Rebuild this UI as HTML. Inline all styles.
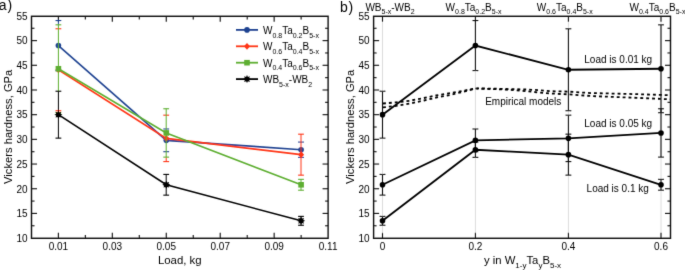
<!DOCTYPE html>
<html><head><meta charset="utf-8"><style>
html,body{margin:0;padding:0;background:#fff;}
body{width:685px;height:270px;overflow:hidden;}
svg{display:block;font-family:"Liberation Sans",sans-serif;}
</style></head><body>
<svg width="685" height="270" viewBox="0 0 685 270" font-family="Liberation Sans, sans-serif">
<defs><filter id="bl" x="0" y="0" width="685" height="270" filterUnits="userSpaceOnUse"><feConvolveMatrix order="3" kernelMatrix="0.0100 0.0800 0.0100 0.0800 0.6400 0.0800 0.0100 0.0800 0.0100" divisor="1" edgeMode="none"/></filter><filter id="blt" x="0" y="0" width="685" height="270" filterUnits="userSpaceOnUse"><feConvolveMatrix order="3" kernelMatrix="0.01 0.08 0.01 0.08 0.64 0.08 0.01 0.08 0.01" divisor="1" edgeMode="none"/></filter></defs>
<rect width="685" height="270" fill="#fff"/>
<g filter="url(#bl)">
<line x1="31.5" y1="213.41" x2="37" y2="213.41" stroke="#111" stroke-width="1.1" />
<line x1="322.6" y1="213.41" x2="328.1" y2="213.41" stroke="#111" stroke-width="1.1" />
<line x1="31.5" y1="188.73" x2="37" y2="188.73" stroke="#111" stroke-width="1.1" />
<line x1="322.6" y1="188.73" x2="328.1" y2="188.73" stroke="#111" stroke-width="1.1" />
<line x1="31.5" y1="164.04" x2="37" y2="164.04" stroke="#111" stroke-width="1.1" />
<line x1="322.6" y1="164.04" x2="328.1" y2="164.04" stroke="#111" stroke-width="1.1" />
<line x1="31.5" y1="139.36" x2="37" y2="139.36" stroke="#111" stroke-width="1.1" />
<line x1="322.6" y1="139.36" x2="328.1" y2="139.36" stroke="#111" stroke-width="1.1" />
<line x1="31.5" y1="114.67" x2="37" y2="114.67" stroke="#111" stroke-width="1.1" />
<line x1="322.6" y1="114.67" x2="328.1" y2="114.67" stroke="#111" stroke-width="1.1" />
<line x1="31.5" y1="89.99" x2="37" y2="89.99" stroke="#111" stroke-width="1.1" />
<line x1="322.6" y1="89.99" x2="328.1" y2="89.99" stroke="#111" stroke-width="1.1" />
<line x1="31.5" y1="65.3" x2="37" y2="65.3" stroke="#111" stroke-width="1.1" />
<line x1="322.6" y1="65.3" x2="328.1" y2="65.3" stroke="#111" stroke-width="1.1" />
<line x1="31.5" y1="40.62" x2="37" y2="40.62" stroke="#111" stroke-width="1.1" />
<line x1="322.6" y1="40.62" x2="328.1" y2="40.62" stroke="#111" stroke-width="1.1" />
<line x1="31.5" y1="225.76" x2="34.5" y2="225.76" stroke="#111" stroke-width="1.1" />
<line x1="325.1" y1="225.76" x2="328.1" y2="225.76" stroke="#111" stroke-width="1.1" />
<line x1="31.5" y1="201.07" x2="34.5" y2="201.07" stroke="#111" stroke-width="1.1" />
<line x1="325.1" y1="201.07" x2="328.1" y2="201.07" stroke="#111" stroke-width="1.1" />
<line x1="31.5" y1="176.39" x2="34.5" y2="176.39" stroke="#111" stroke-width="1.1" />
<line x1="325.1" y1="176.39" x2="328.1" y2="176.39" stroke="#111" stroke-width="1.1" />
<line x1="31.5" y1="151.7" x2="34.5" y2="151.7" stroke="#111" stroke-width="1.1" />
<line x1="325.1" y1="151.7" x2="328.1" y2="151.7" stroke="#111" stroke-width="1.1" />
<line x1="31.5" y1="127.02" x2="34.5" y2="127.02" stroke="#111" stroke-width="1.1" />
<line x1="325.1" y1="127.02" x2="328.1" y2="127.02" stroke="#111" stroke-width="1.1" />
<line x1="31.5" y1="102.33" x2="34.5" y2="102.33" stroke="#111" stroke-width="1.1" />
<line x1="325.1" y1="102.33" x2="328.1" y2="102.33" stroke="#111" stroke-width="1.1" />
<line x1="31.5" y1="77.65" x2="34.5" y2="77.65" stroke="#111" stroke-width="1.1" />
<line x1="325.1" y1="77.65" x2="328.1" y2="77.65" stroke="#111" stroke-width="1.1" />
<line x1="31.5" y1="52.96" x2="34.5" y2="52.96" stroke="#111" stroke-width="1.1" />
<line x1="325.1" y1="52.96" x2="328.1" y2="52.96" stroke="#111" stroke-width="1.1" />
<line x1="31.5" y1="28.28" x2="34.5" y2="28.28" stroke="#111" stroke-width="1.1" />
<line x1="325.1" y1="28.28" x2="328.1" y2="28.28" stroke="#111" stroke-width="1.1" />
<line x1="58.38" y1="238.3" x2="58.38" y2="232.8" stroke="#111" stroke-width="1.1" />
<line x1="58.38" y1="16.3" x2="58.38" y2="21.8" stroke="#111" stroke-width="1.1" />
<line x1="85.35" y1="238.3" x2="85.35" y2="235.1" stroke="#111" stroke-width="1.1" />
<line x1="85.35" y1="16.3" x2="85.35" y2="19.5" stroke="#111" stroke-width="1.1" />
<line x1="112.32" y1="238.3" x2="112.32" y2="232.8" stroke="#111" stroke-width="1.1" />
<line x1="112.32" y1="16.3" x2="112.32" y2="21.8" stroke="#111" stroke-width="1.1" />
<line x1="139.3" y1="238.3" x2="139.3" y2="235.1" stroke="#111" stroke-width="1.1" />
<line x1="139.3" y1="16.3" x2="139.3" y2="19.5" stroke="#111" stroke-width="1.1" />
<line x1="166.28" y1="238.3" x2="166.28" y2="232.8" stroke="#111" stroke-width="1.1" />
<line x1="166.28" y1="16.3" x2="166.28" y2="21.8" stroke="#111" stroke-width="1.1" />
<line x1="193.25" y1="238.3" x2="193.25" y2="235.1" stroke="#111" stroke-width="1.1" />
<line x1="193.25" y1="16.3" x2="193.25" y2="19.5" stroke="#111" stroke-width="1.1" />
<line x1="220.23" y1="238.3" x2="220.23" y2="232.8" stroke="#111" stroke-width="1.1" />
<line x1="220.23" y1="16.3" x2="220.23" y2="21.8" stroke="#111" stroke-width="1.1" />
<line x1="247.2" y1="238.3" x2="247.2" y2="235.1" stroke="#111" stroke-width="1.1" />
<line x1="247.2" y1="16.3" x2="247.2" y2="19.5" stroke="#111" stroke-width="1.1" />
<line x1="274.17" y1="238.3" x2="274.17" y2="232.8" stroke="#111" stroke-width="1.1" />
<line x1="274.17" y1="16.3" x2="274.17" y2="21.8" stroke="#111" stroke-width="1.1" />
<line x1="301.15" y1="238.3" x2="301.15" y2="235.1" stroke="#111" stroke-width="1.1" />
<line x1="301.15" y1="16.3" x2="301.15" y2="19.5" stroke="#111" stroke-width="1.1" />
<line x1="58.4" y1="20.53" x2="58.4" y2="24.82" stroke="#1f4391" stroke-width="1.0" />
<line x1="55.5" y1="20.53" x2="61.3" y2="20.53" stroke="#1f4391" stroke-width="1.1" />
<line x1="55.5" y1="70.59" x2="61.3" y2="70.59" stroke="#1f4391" stroke-width="1.1" />
<line x1="163.3" y1="128.99" x2="169.1" y2="128.99" stroke="#1f4391" stroke-width="1.1" />
<line x1="163.3" y1="151.7" x2="169.1" y2="151.7" stroke="#1f4391" stroke-width="1.1" />
<line x1="298.1" y1="142.08" x2="303.9" y2="142.08" stroke="#1f4391" stroke-width="1.1" />
<line x1="298.1" y1="157.38" x2="303.9" y2="157.38" stroke="#1f4391" stroke-width="1.1" />
<path d="M58.4 45.56L166.3 140.35L301.1 149.73" stroke="#1f4391" stroke-width="1.6" fill="none"/>
<circle cx="58.4" cy="45.56" r="2.8" fill="#1f4391"/>
<circle cx="166.3" cy="140.35" r="2.8" fill="#1f4391"/>
<circle cx="301.1" cy="149.73" r="2.8" fill="#1f4391"/>
<line x1="55.5" y1="28.77" x2="61.3" y2="28.77" stroke="#ff3414" stroke-width="1.1" />
<line x1="55.5" y1="110.73" x2="61.3" y2="110.73" stroke="#ff3414" stroke-width="1.1" />
<line x1="166.2" y1="157.13" x2="166.2" y2="161.58" stroke="#ff3414" stroke-width="1.0" />
<line x1="163.3" y1="115.17" x2="169.1" y2="115.17" stroke="#ff3414" stroke-width="1.1" />
<line x1="163.3" y1="161.58" x2="169.1" y2="161.58" stroke="#ff3414" stroke-width="1.1" />
<line x1="301" y1="134.18" x2="301" y2="175.15" stroke="#ff3414" stroke-width="1.0" />
<line x1="298.1" y1="134.18" x2="303.9" y2="134.18" stroke="#ff3414" stroke-width="1.1" />
<line x1="298.1" y1="175.15" x2="303.9" y2="175.15" stroke="#ff3414" stroke-width="1.1" />
<path d="M58.4 69.75L166.3 138.37L301.1 154.66" stroke="#ff3414" stroke-width="1.6" fill="none"/>
<path d="M58.4 66.35L61.4 69.75L58.4 73.15L55.4 69.75Z" fill="#ff3414"/>
<path d="M166.3 134.97L169.3 138.37L166.3 141.77L163.3 138.37Z" fill="#ff3414"/>
<path d="M301.1 151.26L304.1 154.66L301.1 158.06L298.1 154.66Z" fill="#ff3414"/>
<line x1="58.4" y1="24.82" x2="58.4" y2="91.22" stroke="#5dae30" stroke-width="1.0" />
<line x1="55.5" y1="24.82" x2="61.3" y2="24.82" stroke="#5dae30" stroke-width="1.1" />
<line x1="55.5" y1="112.7" x2="61.3" y2="112.7" stroke="#5dae30" stroke-width="1.1" />
<line x1="166.2" y1="108.75" x2="166.2" y2="157.13" stroke="#5dae30" stroke-width="1.0" />
<line x1="163.3" y1="108.75" x2="169.1" y2="108.75" stroke="#5dae30" stroke-width="1.1" />
<line x1="163.3" y1="157.13" x2="169.1" y2="157.13" stroke="#5dae30" stroke-width="1.1" />
<line x1="301" y1="179.35" x2="301" y2="190.21" stroke="#5dae30" stroke-width="1.0" />
<line x1="298.1" y1="179.35" x2="303.9" y2="179.35" stroke="#5dae30" stroke-width="1.1" />
<line x1="298.1" y1="190.21" x2="303.9" y2="190.21" stroke="#5dae30" stroke-width="1.1" />
<path d="M58.4 68.76L166.3 132.94L301.1 184.78" stroke="#5dae30" stroke-width="1.6" fill="none"/>
<rect x="55.6" y="65.96" width="5.6" height="5.6" fill="#5dae30"/>
<rect x="163.5" y="130.14" width="5.6" height="5.6" fill="#5dae30"/>
<rect x="298.3" y="181.98" width="5.6" height="5.6" fill="#5dae30"/>
<line x1="58.4" y1="91.22" x2="58.4" y2="138.13" stroke="#000" stroke-width="1.0" />
<line x1="55.5" y1="91.22" x2="61.3" y2="91.22" stroke="#000" stroke-width="1.1" />
<line x1="55.5" y1="138.13" x2="61.3" y2="138.13" stroke="#000" stroke-width="1.1" />
<line x1="166.2" y1="174.41" x2="166.2" y2="195.15" stroke="#000" stroke-width="1.0" />
<line x1="163.3" y1="174.41" x2="169.1" y2="174.41" stroke="#000" stroke-width="1.1" />
<line x1="163.3" y1="195.15" x2="169.1" y2="195.15" stroke="#000" stroke-width="1.1" />
<line x1="301" y1="216.38" x2="301" y2="225.26" stroke="#000" stroke-width="1.0" />
<line x1="298.1" y1="216.38" x2="303.9" y2="216.38" stroke="#000" stroke-width="1.1" />
<line x1="298.1" y1="225.26" x2="303.9" y2="225.26" stroke="#000" stroke-width="1.1" />
<path d="M58.4 114.67L166.3 184.78L301.1 220.82" stroke="#000" stroke-width="1.6" fill="none"/>
<polygon points="58.4,110.67 59.32,112.46 61.23,111.85 60.62,113.76 62.4,114.67 60.62,115.59 61.23,117.5 59.32,116.89 58.4,118.67 57.48,116.89 55.57,117.5 56.18,115.59 54.4,114.67 56.18,113.76 55.57,111.85 57.48,112.46" fill="#000"/>
<polygon points="166.3,180.78 167.22,182.56 169.13,181.95 168.52,183.86 170.3,184.78 168.52,185.7 169.13,187.61 167.22,187 166.3,188.78 165.38,187 163.47,187.61 164.08,185.7 162.3,184.78 164.08,183.86 163.47,181.95 165.38,182.56" fill="#000"/>
<polygon points="301.1,216.82 302.02,218.6 303.93,217.99 303.32,219.9 305.1,220.82 303.32,221.74 303.93,223.65 302.02,223.04 301.1,224.82 300.18,223.04 298.27,223.65 298.88,221.74 297.1,220.82 298.88,219.9 298.27,217.99 300.18,218.6" fill="#000"/>
<rect x="31.5" y="16.3" width="296.6" height="222.0" fill="none" stroke="#111" stroke-width="1.4"/>
<line x1="236" y1="29.9" x2="258" y2="29.9" stroke="#1f4391" stroke-width="1.8" />
<circle cx="247" cy="29.9" r="2.8" fill="#1f4391"/>
<line x1="236" y1="46.3" x2="258" y2="46.3" stroke="#ff3414" stroke-width="1.8" />
<path d="M247 42.9L250 46.3L247 49.7L244 46.3Z" fill="#ff3414"/>
<line x1="236" y1="62.7" x2="258" y2="62.7" stroke="#5dae30" stroke-width="1.8" />
<rect x="244.2" y="59.9" width="5.6" height="5.6" fill="#5dae30"/>
<line x1="236" y1="79.1" x2="258" y2="79.1" stroke="#000" stroke-width="1.8" />
<polygon points="247,75.1 247.92,76.88 249.83,76.27 249.22,78.18 251,79.1 249.22,80.02 249.83,81.93 247.92,81.32 247,83.1 246.08,81.32 244.17,81.93 244.78,80.02 243,79.1 244.78,78.18 244.17,76.27 246.08,76.88" fill="#000"/>
<line x1="382.5" y1="16.3" x2="382.5" y2="238.3" stroke="#dcdcdc" stroke-width="1" />
<line x1="475.4" y1="16.3" x2="475.4" y2="238.3" stroke="#dcdcdc" stroke-width="1" />
<line x1="568.4" y1="16.3" x2="568.4" y2="238.3" stroke="#dcdcdc" stroke-width="1" />
<line x1="661" y1="16.3" x2="661" y2="238.3" stroke="#dcdcdc" stroke-width="1" />
<line x1="373.6" y1="213.41" x2="379.1" y2="213.41" stroke="#111" stroke-width="1.1" />
<line x1="665" y1="213.41" x2="670.5" y2="213.41" stroke="#111" stroke-width="1.1" />
<line x1="373.6" y1="188.73" x2="379.1" y2="188.73" stroke="#111" stroke-width="1.1" />
<line x1="665" y1="188.73" x2="670.5" y2="188.73" stroke="#111" stroke-width="1.1" />
<line x1="373.6" y1="164.04" x2="379.1" y2="164.04" stroke="#111" stroke-width="1.1" />
<line x1="665" y1="164.04" x2="670.5" y2="164.04" stroke="#111" stroke-width="1.1" />
<line x1="373.6" y1="139.36" x2="379.1" y2="139.36" stroke="#111" stroke-width="1.1" />
<line x1="665" y1="139.36" x2="670.5" y2="139.36" stroke="#111" stroke-width="1.1" />
<line x1="373.6" y1="114.67" x2="379.1" y2="114.67" stroke="#111" stroke-width="1.1" />
<line x1="665" y1="114.67" x2="670.5" y2="114.67" stroke="#111" stroke-width="1.1" />
<line x1="373.6" y1="89.99" x2="379.1" y2="89.99" stroke="#111" stroke-width="1.1" />
<line x1="665" y1="89.99" x2="670.5" y2="89.99" stroke="#111" stroke-width="1.1" />
<line x1="373.6" y1="65.3" x2="379.1" y2="65.3" stroke="#111" stroke-width="1.1" />
<line x1="665" y1="65.3" x2="670.5" y2="65.3" stroke="#111" stroke-width="1.1" />
<line x1="373.6" y1="40.62" x2="379.1" y2="40.62" stroke="#111" stroke-width="1.1" />
<line x1="665" y1="40.62" x2="670.5" y2="40.62" stroke="#111" stroke-width="1.1" />
<line x1="373.6" y1="225.76" x2="376.6" y2="225.76" stroke="#111" stroke-width="1.1" />
<line x1="667.5" y1="225.76" x2="670.5" y2="225.76" stroke="#111" stroke-width="1.1" />
<line x1="373.6" y1="201.07" x2="376.6" y2="201.07" stroke="#111" stroke-width="1.1" />
<line x1="667.5" y1="201.07" x2="670.5" y2="201.07" stroke="#111" stroke-width="1.1" />
<line x1="373.6" y1="176.39" x2="376.6" y2="176.39" stroke="#111" stroke-width="1.1" />
<line x1="667.5" y1="176.39" x2="670.5" y2="176.39" stroke="#111" stroke-width="1.1" />
<line x1="373.6" y1="151.7" x2="376.6" y2="151.7" stroke="#111" stroke-width="1.1" />
<line x1="667.5" y1="151.7" x2="670.5" y2="151.7" stroke="#111" stroke-width="1.1" />
<line x1="373.6" y1="127.02" x2="376.6" y2="127.02" stroke="#111" stroke-width="1.1" />
<line x1="667.5" y1="127.02" x2="670.5" y2="127.02" stroke="#111" stroke-width="1.1" />
<line x1="373.6" y1="102.33" x2="376.6" y2="102.33" stroke="#111" stroke-width="1.1" />
<line x1="667.5" y1="102.33" x2="670.5" y2="102.33" stroke="#111" stroke-width="1.1" />
<line x1="373.6" y1="77.65" x2="376.6" y2="77.65" stroke="#111" stroke-width="1.1" />
<line x1="667.5" y1="77.65" x2="670.5" y2="77.65" stroke="#111" stroke-width="1.1" />
<line x1="373.6" y1="52.96" x2="376.6" y2="52.96" stroke="#111" stroke-width="1.1" />
<line x1="667.5" y1="52.96" x2="670.5" y2="52.96" stroke="#111" stroke-width="1.1" />
<line x1="373.6" y1="28.28" x2="376.6" y2="28.28" stroke="#111" stroke-width="1.1" />
<line x1="667.5" y1="28.28" x2="670.5" y2="28.28" stroke="#111" stroke-width="1.1" />
<line x1="382.5" y1="238.3" x2="382.5" y2="232.8" stroke="#111" stroke-width="1.1" />
<line x1="382.5" y1="16.3" x2="382.5" y2="21.8" stroke="#111" stroke-width="1.1" />
<line x1="475.4" y1="238.3" x2="475.4" y2="232.8" stroke="#111" stroke-width="1.1" />
<line x1="475.4" y1="16.3" x2="475.4" y2="21.8" stroke="#111" stroke-width="1.1" />
<line x1="568.4" y1="238.3" x2="568.4" y2="232.8" stroke="#111" stroke-width="1.1" />
<line x1="568.4" y1="16.3" x2="568.4" y2="21.8" stroke="#111" stroke-width="1.1" />
<line x1="661" y1="238.3" x2="661" y2="232.8" stroke="#111" stroke-width="1.1" />
<line x1="661" y1="16.3" x2="661" y2="21.8" stroke="#111" stroke-width="1.1" />
<line x1="382.5" y1="91.22" x2="382.5" y2="138.13" stroke="#111" stroke-width="1.1" />
<line x1="379.6" y1="91.22" x2="385.4" y2="91.22" stroke="#111" stroke-width="1.1" />
<line x1="379.6" y1="138.13" x2="385.4" y2="138.13" stroke="#111" stroke-width="1.1" />
<line x1="475.4" y1="20.53" x2="475.4" y2="70.59" stroke="#111" stroke-width="1.1" />
<line x1="472.5" y1="20.53" x2="478.3" y2="20.53" stroke="#111" stroke-width="1.1" />
<line x1="472.5" y1="70.59" x2="478.3" y2="70.59" stroke="#111" stroke-width="1.1" />
<line x1="568.4" y1="28.77" x2="568.4" y2="110.73" stroke="#111" stroke-width="1.1" />
<line x1="565.5" y1="28.77" x2="571.3" y2="28.77" stroke="#111" stroke-width="1.1" />
<line x1="565.5" y1="110.73" x2="571.3" y2="110.73" stroke="#111" stroke-width="1.1" />
<line x1="661" y1="24.82" x2="661" y2="112.7" stroke="#111" stroke-width="1.1" />
<line x1="658.1" y1="24.82" x2="663.9" y2="24.82" stroke="#111" stroke-width="1.1" />
<line x1="658.1" y1="112.7" x2="663.9" y2="112.7" stroke="#111" stroke-width="1.1" />
<line x1="382.5" y1="174.41" x2="382.5" y2="195.15" stroke="#111" stroke-width="1.1" />
<line x1="379.6" y1="174.41" x2="385.4" y2="174.41" stroke="#111" stroke-width="1.1" />
<line x1="379.6" y1="195.15" x2="385.4" y2="195.15" stroke="#111" stroke-width="1.1" />
<line x1="475.4" y1="128.99" x2="475.4" y2="151.7" stroke="#111" stroke-width="1.1" />
<line x1="472.5" y1="128.99" x2="478.3" y2="128.99" stroke="#111" stroke-width="1.1" />
<line x1="472.5" y1="151.7" x2="478.3" y2="151.7" stroke="#111" stroke-width="1.1" />
<line x1="568.4" y1="115.17" x2="568.4" y2="161.58" stroke="#111" stroke-width="1.1" />
<line x1="565.5" y1="115.17" x2="571.3" y2="115.17" stroke="#111" stroke-width="1.1" />
<line x1="565.5" y1="161.58" x2="571.3" y2="161.58" stroke="#111" stroke-width="1.1" />
<line x1="661" y1="108.75" x2="661" y2="157.13" stroke="#111" stroke-width="1.1" />
<line x1="658.1" y1="108.75" x2="663.9" y2="108.75" stroke="#111" stroke-width="1.1" />
<line x1="658.1" y1="157.13" x2="663.9" y2="157.13" stroke="#111" stroke-width="1.1" />
<line x1="382.5" y1="216.38" x2="382.5" y2="225.26" stroke="#111" stroke-width="1.1" />
<line x1="379.6" y1="216.38" x2="385.4" y2="216.38" stroke="#111" stroke-width="1.1" />
<line x1="379.6" y1="225.26" x2="385.4" y2="225.26" stroke="#111" stroke-width="1.1" />
<line x1="475.4" y1="142.08" x2="475.4" y2="157.38" stroke="#111" stroke-width="1.1" />
<line x1="472.5" y1="142.08" x2="478.3" y2="142.08" stroke="#111" stroke-width="1.1" />
<line x1="472.5" y1="157.38" x2="478.3" y2="157.38" stroke="#111" stroke-width="1.1" />
<line x1="568.4" y1="134.18" x2="568.4" y2="175.15" stroke="#111" stroke-width="1.1" />
<line x1="565.5" y1="134.18" x2="571.3" y2="134.18" stroke="#111" stroke-width="1.1" />
<line x1="565.5" y1="175.15" x2="571.3" y2="175.15" stroke="#111" stroke-width="1.1" />
<line x1="661" y1="179.35" x2="661" y2="190.21" stroke="#111" stroke-width="1.1" />
<line x1="658.1" y1="179.35" x2="663.9" y2="179.35" stroke="#111" stroke-width="1.1" />
<line x1="658.1" y1="190.21" x2="663.9" y2="190.21" stroke="#111" stroke-width="1.1" />
<path d="M383 103.5L396 102.4L410 100.7L424 98L436 95.5L450 93.2L463 90.8L476 88.3L490 88.6L506 89L527 89.5L538 90.1L550 91.2L568 91.6L580 92.4L592 93.1L610 93.5L628 93.9L661 94.9L670 95.3" stroke="#000" stroke-width="1.8" stroke-dasharray="2.9 3" fill="none"/>
<path d="M383 107.4L396 105.9L410 103.6L424 100.5L436 97.6L450 95L463 91.8L476 88.6L490 89L506 89.6L527 91.2L538 92.4L550 93.5L568 94.3L580 95.2L592 96.1L610 96.8L628 97.5L661 98.9L670 99.3" stroke="#000" stroke-width="1.8" stroke-dasharray="2.9 3" fill="none"/>
<path d="M382.5 114.67L475.4 45.56L568.4 69.75L661 68.76" stroke="#000" stroke-width="1.8" fill="none"/>
<circle cx="382.5" cy="114.67" r="2.8" fill="#000"/>
<circle cx="475.4" cy="45.56" r="2.8" fill="#000"/>
<circle cx="568.4" cy="69.75" r="2.8" fill="#000"/>
<circle cx="661" cy="68.76" r="2.8" fill="#000"/>
<path d="M382.5 184.78L475.4 140.35L568.4 138.37L661 132.94" stroke="#000" stroke-width="1.8" fill="none"/>
<circle cx="382.5" cy="184.78" r="2.8" fill="#000"/>
<circle cx="475.4" cy="140.35" r="2.8" fill="#000"/>
<circle cx="568.4" cy="138.37" r="2.8" fill="#000"/>
<circle cx="661" cy="132.94" r="2.8" fill="#000"/>
<path d="M382.5 220.82L475.4 149.73L568.4 154.66L661 184.78" stroke="#000" stroke-width="1.8" fill="none"/>
<circle cx="382.5" cy="220.82" r="2.8" fill="#000"/>
<circle cx="475.4" cy="149.73" r="2.8" fill="#000"/>
<circle cx="568.4" cy="154.66" r="2.8" fill="#000"/>
<circle cx="661" cy="184.78" r="2.8" fill="#000"/>
<rect x="373.6" y="16.3" width="296.9" height="222.0" fill="none" stroke="#111" stroke-width="1.4"/>
</g>
<g filter="url(#blt)">
<text x="27.7" y="241.9" font-size="10" text-anchor="end" >10</text>
<text x="27.7" y="217.22" font-size="10" text-anchor="end" >15</text>
<text x="27.7" y="192.53" font-size="10" text-anchor="end" >20</text>
<text x="27.7" y="167.84" font-size="10" text-anchor="end" >25</text>
<text x="27.7" y="143.16" font-size="10" text-anchor="end" >30</text>
<text x="27.7" y="118.47" font-size="10" text-anchor="end" >35</text>
<text x="27.7" y="93.79" font-size="10" text-anchor="end" >40</text>
<text x="27.7" y="69.1" font-size="10" text-anchor="end" >45</text>
<text x="27.7" y="44.42" font-size="10" text-anchor="end" >50</text>
<text x="27.7" y="19.73" font-size="10" text-anchor="end" >55</text>
<text x="58.38" y="250" font-size="10" text-anchor="middle" >0.01</text>
<text x="112.32" y="250" font-size="10" text-anchor="middle" >0.03</text>
<text x="166.28" y="250" font-size="10" text-anchor="middle" >0.05</text>
<text x="220.23" y="250" font-size="10" text-anchor="middle" >0.07</text>
<text x="274.17" y="250" font-size="10" text-anchor="middle" >0.09</text>
<text x="328.12" y="250" font-size="10" text-anchor="middle" >0.11</text>
<text x="263" y="34" font-size="10"><tspan>W</tspan><tspan font-size="7" dy="3.6">0.8</tspan><tspan dy="-3.6">Ta</tspan><tspan font-size="7" dy="3.6">0.2</tspan><tspan dy="-3.6">B</tspan><tspan font-size="7" dy="3.6">5-x</tspan></text>
<text x="263" y="50.4" font-size="10"><tspan>W</tspan><tspan font-size="7" dy="3.6">0.6</tspan><tspan dy="-3.6">Ta</tspan><tspan font-size="7" dy="3.6">0.4</tspan><tspan dy="-3.6">B</tspan><tspan font-size="7" dy="3.6">5-x</tspan></text>
<text x="263" y="66.8" font-size="10"><tspan>W</tspan><tspan font-size="7" dy="3.6">0.4</tspan><tspan dy="-3.6">Ta</tspan><tspan font-size="7" dy="3.6">0.6</tspan><tspan dy="-3.6">B</tspan><tspan font-size="7" dy="3.6">5-x</tspan></text>
<text x="263" y="83.2" font-size="10"><tspan>WB</tspan><tspan font-size="7" dy="3.6">5-x</tspan><tspan dy="-3.6">-WB</tspan><tspan font-size="7" dy="3.6">2</tspan></text>
<text x="179.76" y="263.9" font-size="11.4" text-anchor="middle" >Load, kg</text>
<text transform="translate(11.5,126.8) rotate(-90)" font-size="11.2" text-anchor="middle">Vickers hardness, GPa</text>
<text x="-1.3" y="10" font-size="14" text-anchor="start" letter-spacing="0.9">a)</text>
<text x="369.6" y="241.9" font-size="10" text-anchor="end" >10</text>
<text x="369.6" y="217.22" font-size="10" text-anchor="end" >15</text>
<text x="369.6" y="192.53" font-size="10" text-anchor="end" >20</text>
<text x="369.6" y="167.84" font-size="10" text-anchor="end" >25</text>
<text x="369.6" y="143.16" font-size="10" text-anchor="end" >30</text>
<text x="369.6" y="118.47" font-size="10" text-anchor="end" >35</text>
<text x="369.6" y="93.79" font-size="10" text-anchor="end" >40</text>
<text x="369.6" y="69.1" font-size="10" text-anchor="end" >45</text>
<text x="369.6" y="44.42" font-size="10" text-anchor="end" >50</text>
<text x="369.6" y="19.73" font-size="10" text-anchor="end" >55</text>
<text x="382.5" y="250" font-size="10" text-anchor="middle" >0</text>
<text x="475.4" y="250" font-size="10" text-anchor="middle" >0.2</text>
<text x="568.4" y="250" font-size="10" text-anchor="middle" >0.4</text>
<text x="661" y="250" font-size="10" text-anchor="middle" >0.6</text>
<text x="365.4" y="10.7" font-size="10"><tspan>WB</tspan><tspan font-size="7" dy="3.6">5-x</tspan><tspan dy="-3.6">-WB</tspan><tspan font-size="7" dy="3.6">2</tspan></text>
<text x="445.6" y="10.7" font-size="10"><tspan>W</tspan><tspan font-size="7" dy="3.6">0.8</tspan><tspan dy="-3.6">Ta</tspan><tspan font-size="7" dy="3.6">0.2</tspan><tspan dy="-3.6">B</tspan><tspan font-size="7" dy="3.6">5-x</tspan></text>
<text x="536.8" y="10.7" font-size="10"><tspan>W</tspan><tspan font-size="7" dy="3.6">0.6</tspan><tspan dy="-3.6">Ta</tspan><tspan font-size="7" dy="3.6">0.4</tspan><tspan dy="-3.6">B</tspan><tspan font-size="7" dy="3.6">5-x</tspan></text>
<text x="629.5" y="10.7" font-size="10"><tspan>W</tspan><tspan font-size="7" dy="3.6">0.4</tspan><tspan dy="-3.6">Ta</tspan><tspan font-size="7" dy="3.6">0.6</tspan><tspan dy="-3.6">B</tspan><tspan font-size="7" dy="3.6">5-x</tspan></text>
<text x="584.3" y="63" font-size="10" text-anchor="start" >Load is 0.01 kg</text>
<text x="584.3" y="127.4" font-size="10" text-anchor="start" >Load is 0.05 kg</text>
<text x="586.6" y="192.2" font-size="10" text-anchor="start" >Load is 0.1 kg</text>
<text x="485.2" y="105" font-size="10" text-anchor="start" >Empirical models</text>
<text x="522.5" y="263.9" font-size="11.3" text-anchor="middle"><tspan>y in W</tspan><tspan font-size="8" dy="3.9">1-y</tspan><tspan dy="-3.9">Ta</tspan><tspan font-size="8" dy="3.9">y</tspan><tspan dy="-3.9">B</tspan><tspan font-size="8" dy="3.9">5-x</tspan></text>
<text transform="translate(353.9,126.8) rotate(-90)" font-size="11.2" text-anchor="middle">Vickers hardness, GPa</text>
<text x="340.1" y="12.4" font-size="14" text-anchor="start" letter-spacing="0.7">b)</text>
</g></svg>
</body></html>
